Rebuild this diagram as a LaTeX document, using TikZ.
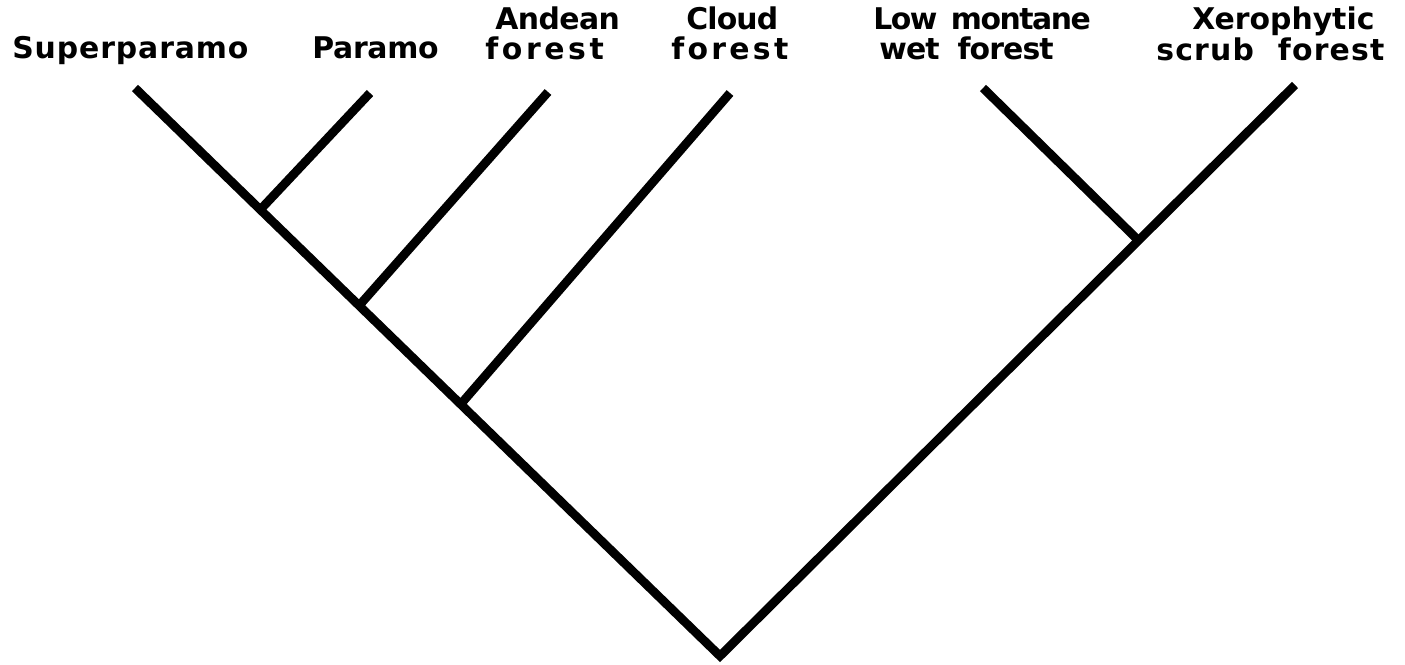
\documentclass[tikz,border=0pt]{standalone}
\usepackage{fontspec}
\newfontfamily\taxonfont{DejaVu Sans}

\begin{document}
\begin{tikzpicture}[x=0.02cm, y=-0.02cm,
	taxon/.style={font=\taxonfont\bfseries\fontsize{17}{20}\selectfont\addfontfeature{LetterSpace=#1}, anchor=base west, inner sep=0pt},
	taxon/.default=0,
	branch/.style={line width=5pt}]
		%%%%% START %%%%%
		\useasboundingbox (0, 0) rectangle (1405, 664);
		
		\node[taxon=3] (superparamo) at (12, 58) {Superparamo};
		\node[taxon=-1] (paramo) at (312, 58) {Paramo};
		\node[taxon=-2] (andean) at (495, 29) {Andean};
		\node[taxon=12] (andeanforest) at (485, 59) {forest};
		\node[taxon=-3] (cloud) at (686, 29) {Cloud};
		\node[taxon=11] (cloudforest) at (671, 59) {forest};
		\node[taxon=-5] (lowmontane) at (873, 29) {Low\hspace{0.45em}montane};
		\node[taxon=-3] (wetforest) at (879, 59) {wet\hspace{0.6em}forest};
		\node[taxon] (xerophytic) at (1192, 29) {Xerophytic};
		\node[taxon=4] (scrubforest) at (1156, 60) {scrub\hspace{0.8em}forest};
		
		\coordinate (root) at (720, 656);
		\coordinate (tsuper) at (135, 88);
		\coordinate (tparamo) at (370, 93);
		\coordinate (tandean) at (548, 92);
		\coordinate (tcloud) at (730, 93);
		\coordinate (tlow) at (983, 88);
		\coordinate (txero) at (1295, 85);
		
		\coordinate (j1) at (260, 210);
		\coordinate (j2) at (357, 308);
		\coordinate (j3) at (460, 405);
		\coordinate (j4) at (1138, 240);
		
		\draw[branch] (tsuper) -- (root) -- (txero);
		\draw[branch] (tparamo) -- (j1);
		\draw[branch] (tandean) -- (j2);
		\draw[branch] (tcloud) -- (j3);
		\draw[branch] (tlow) -- (j4);
		
		%%%%% END %%%%%
	\end{tikzpicture}
\end{document}
